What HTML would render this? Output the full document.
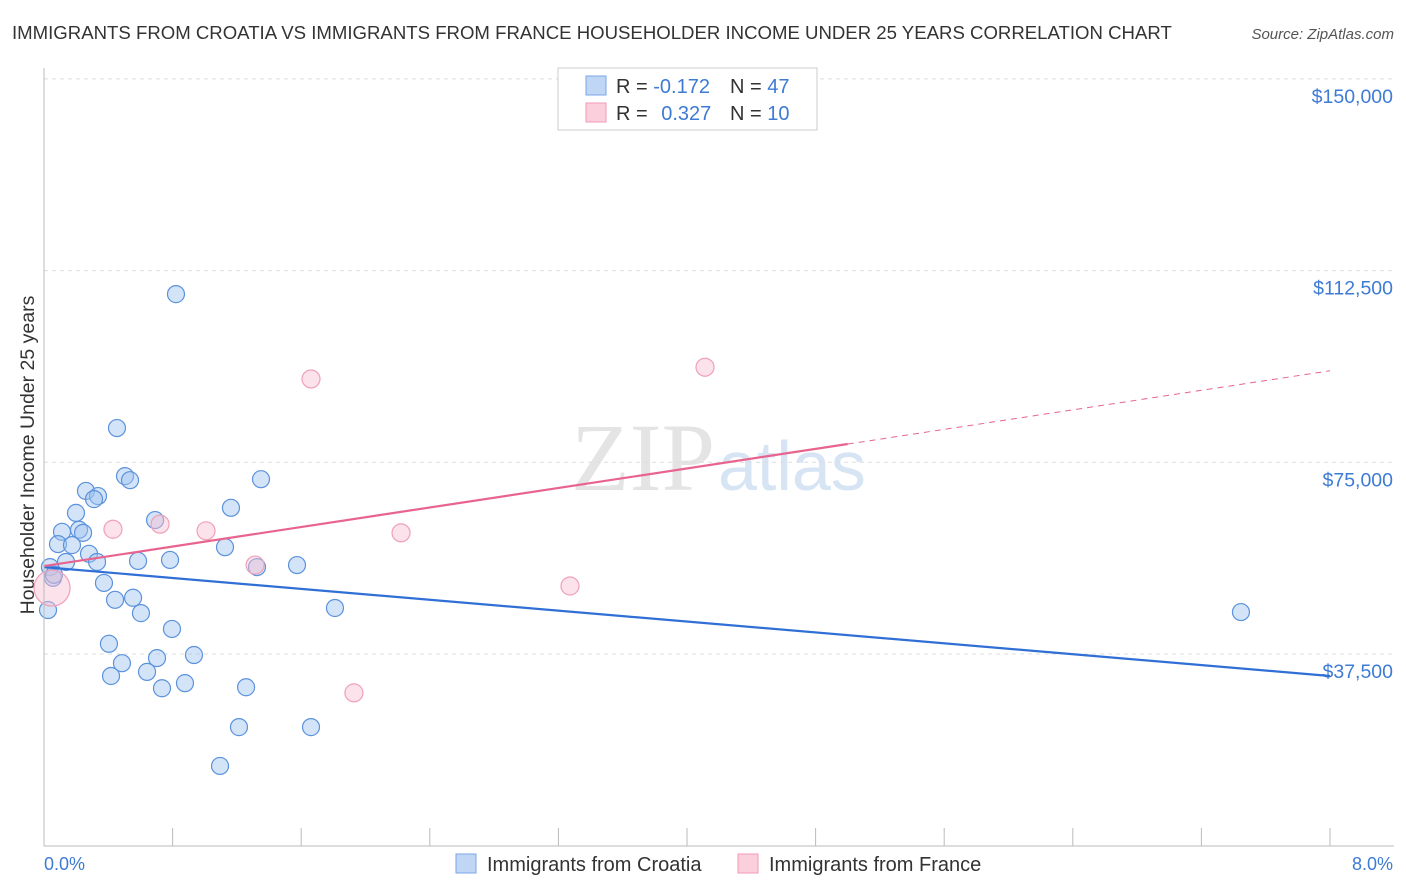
<!DOCTYPE html>
<html><head><meta charset="utf-8"><style>
body{margin:0;background:#fff;font-family:"Liberation Sans",sans-serif;}
svg{display:block}
</style></head><body>
<svg id="chart" width="1406" height="892">
<text x="12" y="39" font-size="18.6" fill="#333">IMMIGRANTS FROM CROATIA VS IMMIGRANTS FROM FRANCE HOUSEHOLDER INCOME UNDER 25 YEARS CORRELATION CHART</text>
<text x="1394" y="39" font-size="15" fill="#555" font-style="italic" text-anchor="end">Source: ZipAtlas.com</text>
<text x="715" y="490" font-size="96" fill="#e4e4e4" text-anchor="end" font-family="Liberation Serif,serif">ZIP</text>
<text x="718" y="490" font-size="70" fill="#d6e4f4">atlas</text>
<text transform="translate(34,455) rotate(-90)" font-size="19.5" fill="#333" text-anchor="middle">Householder Income Under 25 years</text>
<g id="grid"></g><g id="marks"></g>
<line x1="44" y1="68" x2="44" y2="846" stroke="#bbb"/>
<line x1="44" y1="846" x2="1394" y2="846" stroke="#bbb"/>
<text x="44" y="870" font-size="18" fill="#3d7bd4">0.0%</text>
<text x="1393" y="870" font-size="18" fill="#3d7bd4" text-anchor="end">8.0%</text>
<g>
<rect x="558" y="68" width="259" height="62" fill="#fff" stroke="#ccc"/>
<rect x="586" y="76" width="20" height="19" fill="#c0d6f5" stroke="#7aa6e6"/>
<rect x="586" y="103" width="20" height="19" fill="#fbd0dc" stroke="#f09ab4"/>
<text x="616" y="93" font-size="20" fill="#333">R = <tspan fill="#3d7bd4">-0.172</tspan><tspan x="730">N = </tspan><tspan fill="#3d7bd4">47</tspan></text>
<text x="616" y="120" font-size="20" fill="#333">R = <tspan fill="#3d7bd4" dx="8">0.327</tspan><tspan x="730">N = </tspan><tspan fill="#3d7bd4">10</tspan></text>
</g>
<g>
<rect x="456" y="854" width="20" height="19" fill="#c0d6f5" stroke="#7aa6e6"/>
<text x="487" y="871" font-size="20" fill="#333">Immigrants from Croatia</text>
<rect x="738" y="854" width="20" height="19" fill="#fbd0dc" stroke="#f09ab4"/>
<text x="769" y="871" font-size="20" fill="#333">Immigrants from France</text>
</g>
</svg>
<script>
const yTicks=[37500,75000,112500,150000];
const yTickLabels=["$37,500","$75,000","$112,500","$150,000"];
const xTicks=[0,0.8,1.6,2.4,3.2,4.0,4.8,5.6,6.4,7.2,8.0];
const croatiaX=[0.821,0.454,0.504,0.535,1.350,0.261,0.336,0.311,1.163,0.199,0.691,0.112,0.218,0.243,0.087,0.174,1.126,0.280,0.137,0.330,0.585,0.784,0.037,1.325,1.574,0.056,0.373,0.442,0.554,0.603,1.810,0.025,7.446,0.796,0.404,0.933,0.485,0.703,0.641,0.417,0.877,0.734,1.257,1.213,1.661,1.095,0.062];
const croatiaY=[107900,81700,72300,71500,71700,69400,68400,67800,66100,65100,63700,61400,61800,61200,59000,58800,58400,57100,55500,55500,55700,55900,54500,54500,54900,52400,51400,48100,48500,45500,46500,46100,45700,42400,39500,37300,35700,36700,34000,33200,31800,30800,31000,23200,23200,15600,53000];
const franceX=[0.05,0.429,0.722,1.008,1.661,2.221,1.313,3.272,4.112,1.928];
const franceY=[50400,61900,62900,61600,91300,61200,54900,50800,93600,29900];
const franceSize=[18,9,9,9,9,9,9,9,9,9];
const croatiaTrend=[54500,33200];
const franceTrend=[54700,92900];
const franceSolidEnd=5.0;
const NS="http://www.w3.org/2000/svg";
const X=v=>44+v/8*1286;
const Y=v=>845.7-v/37500*191.7;
const grid=document.getElementById('grid'),marks=document.getElementById('marks');
function mk(tag,attrs,parent){const e=document.createElementNS(NS,tag);for(const k in attrs)e.setAttribute(k,attrs[k]);parent.appendChild(e);return e;}
yTicks.forEach((t,i)=>{
 const l=mk('line',{x1:44,x2:1394,y1:Y(t),y2:Y(t),stroke:'#ddd','stroke-dasharray':'4,4'},grid);
 
 
 const tx=mk('text',{x:1393,y:Y(t)+24,'font-size':19.5,fill:'#3d7bd4','text-anchor':'end'},grid);
 tx.textContent=yTickLabels[i];
 
 
});
xTicks.forEach(t=>{
 const l=mk('line',{x1:X(t),x2:X(t),y1:828,y2:846,stroke:'#bbb'},grid);
 
 
});
croatiaX.forEach((x,i)=>{
 const c=mk('circle',{cx:X(x),cy:Y(croatiaY[i]),r:8.5,fill:'rgba(160,196,240,0.45)',stroke:'#5b92dc','stroke-width':1.2},marks);
 
 
});
franceX.forEach((x,i)=>{
 const c=mk('circle',{cx:X(x),cy:Y(franceY[i]),r:franceSize[i],fill:'rgba(248,190,208,0.45)',stroke:'#f0a0b8','stroke-width':1.2},marks);
 
 
});
const bt=mk('line',{x1:X(0),y1:Y(croatiaTrend[0]),x2:X(8),y2:Y(croatiaTrend[1]),stroke:'#2f6fd6','stroke-width':2.2},marks);


const fy=v=>franceTrend[0]+(franceTrend[1]-franceTrend[0])*v/8;
const ft=mk('line',{x1:X(0),y1:Y(fy(0)),x2:X(franceSolidEnd),y2:Y(fy(franceSolidEnd)),stroke:'#e8648e','stroke-width':2.2},marks);


const fd=mk('line',{x1:X(franceSolidEnd),y1:Y(fy(franceSolidEnd)),x2:X(8),y2:Y(fy(8)),stroke:'#e8648e','stroke-width':1,'stroke-dasharray':'6,5'},marks);


</script>
</body></html>
